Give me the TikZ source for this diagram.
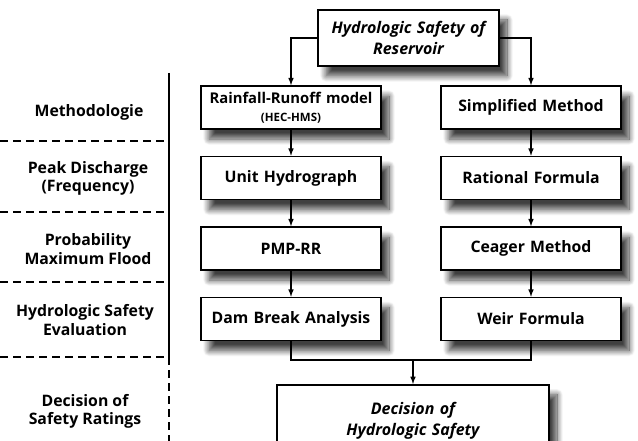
\documentclass[tikz,border=0pt]{standalone}
\usepackage{fontspec}
\setmainfont{Open Sans}
\usetikzlibrary{arrows, positioning, shadows, shadows.blur}

\begin{document}
\begin{tikzpicture}[x=1pt, y=-1pt, node distance=26pt, >=latex, line width=1.5pt]
    % Styles
    \tikzstyle{stage} = [rectangle, draw, fill=white, text width=176pt, align=center, minimum width=180pt, minimum height=43pt, inner xsep=2pt, inner ysep=1pt, font=\bfseries\fontsize{15.8}{18}\selectfont, blur shadow={shadow xshift=8pt, shadow yshift=-10pt, shadow blur radius=6pt, shadow blur steps=14, shadow opacity=75}]
    \tikzstyle{goal} = [stage, font=\bfseries\itshape\fontsize{16}{21}\selectfont]
    \tikzstyle{level} = [align=center, font=\bfseries\fontsize{15.8}{18.5}\selectfont]
    \tikzstyle{divider} = [line width=1.6pt, dash pattern=on 8pt off 5pt]

    \clip (0,0) rectangle (638,441);

    % Nodes
    \node [goal, minimum width=181pt, minimum height=56pt] (safety) at (408.5,38) {Hydrologic Safety of\\Reservoir};
    \node [stage] (rainfall) at (291,107.5) {{\fontsize{14.8}{18}\selectfont Rainfall-Runoff model}\\{\fontsize{11.5}{14}\selectfont (HEC-HMS)}};
    \node [stage, below=of rainfall] (unit) {Unit Hydrograph};
    \node [stage, below=of unit] (pmp) {PMP-RR};
    \node [stage, below=of pmp] (dambreak) {Dam Break Analysis};
    \node [stage] (simplified) at (531,107.5) {Simplified Method};
    \node [stage, below=of simplified] (rational) {Rational Formula};
    \node [stage, below=of rational] (ceager) {Ceager Method};
    \node [stage, below=of ceager] (weir) {Weir Formula};
    \node [goal, minimum width=272pt, minimum height=72pt, anchor=north] (decision) at (413,384) {Decision of\\Hydrologic Safety};
    \coordinate (join) at (413,360);

    % Levels
    \node [level] (method) at (89,112) {Methodologie};
    \node [level] (peak) at (88,178.5) {Peak Discharge\\(Frequency)};
    \node [level] (pmf) at (88,249) {Probability\\Maximum Flood};
    \node [level] (evaluation) at (85,320) {Hydrologic Safety\\Evaluation};
    \node [level] (rating) at (85,411.5) {Decision of\\Safety Ratings};

    % Separators
    \coordinate (axistop) at (169,73);
    \coordinate (axismid) at (169,357);
    \coordinate (axisbot) at (169,441);
    \draw[line width=1.6pt] (axistop) -- (axismid);
    \draw[divider] (axismid) -- (axisbot);
    \draw[divider] (0,141) -- (169,141);
    \draw[divider] (0,212) -- (169,212);
    \draw[divider] (0,282) -- (169,282);
    \draw[divider] (0,357) -- (axismid);

    % Connections
    \draw[->] (safety.west) -| (rainfall.north);
    \draw[->] (safety.east) -| (simplified.north);
    \draw[->] (rainfall) -- (unit);
    \draw[->] (unit) -- (pmp);
    \draw[->] (pmp) -- (dambreak);
    \draw[->] (simplified) -- (rational);
    \draw[->] (rational) -- (ceager);
    \draw[->] (ceager) -- (weir);
    \draw (dambreak.south) |- (join) -| (weir.south);
    \draw[->] (join) -- (decision.north);

\end{tikzpicture}
\end{document}
